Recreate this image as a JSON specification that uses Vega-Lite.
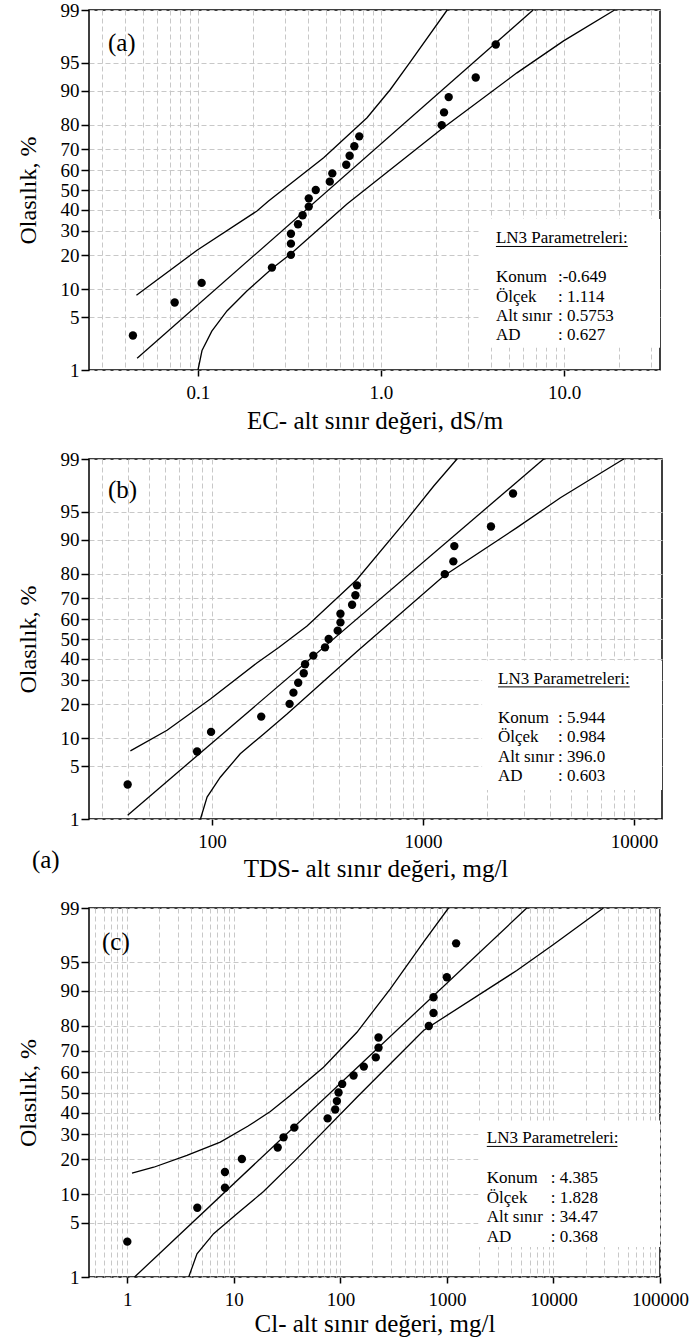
{
  "$schema": "https://vega.github.io/schema/vega-lite/v6.json",
  "padding": {"left": 15, "top": 0, "right": 0, "bottom": 0},
  "bounds": "flush",
  "spacing": 89,
  "config": {
    "font": "Liberation Serif",
    "view": {"stroke": "black", "strokeWidth": 1.5},
    "axis": {
      "labelFont": "Liberation Serif", "titleFont": "Liberation Serif",
      "labelColor": "black", "titleColor": "black", "labelFontSize": 19,
      "titleFontWeight": "normal", "grid": true, "gridColor": "#c8c8c8",
      "gridDash": [5, 3], "gridWidth": 1, "domain": false, "tickColor": "black",
      "tickWidth": 1.5, "labelOverlap": false, "labelFlush": false, "labelBound": false
    },
    "axisX": {"tickSize": 6, "labelPadding": 7, "titleFontSize": 25},
    "axisY": {"tickSize": 8, "labelPadding": 2, "titleFontSize": 24, "titlePadding": 20},
    "text": {"font": "Liberation Serif", "color": "black"}
  },
  "datasets": {
    "a_pts": [
      {"x": 0.0441, "p": 3.0}, {"x": 0.0746, "p": 7.3}, {"x": 0.1047, "p": 11.5}, {"x": 0.2536, "p": 15.8},
      {"x": 0.322, "p": 20.1}, {"x": 0.322, "p": 24.4}, {"x": 0.322, "p": 28.6}, {"x": 0.352, "p": 32.9},
      {"x": 0.373, "p": 37.2}, {"x": 0.403, "p": 41.5}, {"x": 0.403, "p": 45.7}, {"x": 0.44, "p": 50.0},
      {"x": 0.525, "p": 54.3}, {"x": 0.542, "p": 58.5}, {"x": 0.646, "p": 62.8}, {"x": 0.674, "p": 67.1},
      {"x": 0.715, "p": 71.4}, {"x": 0.761, "p": 75.6}, {"x": 2.147, "p": 79.9}, {"x": 2.21, "p": 84.2},
      {"x": 2.344, "p": 88.5}, {"x": 3.293, "p": 92.7}, {"x": 4.24, "p": 97.0}
    ],
    "a_lines": [
      {"s": "fit", "x": 0.0465, "p": 1.48}, {"s": "fit", "x": 6.78, "p": 99},
      {"s": "up", "x": 0.0461, "p": 8.7}, {"s": "up", "x": 0.0988, "p": 21.8}, {"s": "up", "x": 0.21, "p": 39.3},
      {"s": "up", "x": 0.243, "p": 44.3}, {"s": "up", "x": 0.486, "p": 66.2}, {"s": "up", "x": 0.839, "p": 82.5},
      {"s": "up", "x": 1.125, "p": 90.3}, {"s": "up", "x": 1.446, "p": 95.1}, {"s": "up", "x": 2.3, "p": 99},
      {"s": "lo", "x": 0.1, "p": 1.0}, {"s": "lo", "x": 0.1052, "p": 1.9}, {"s": "lo", "x": 0.119, "p": 3.4},
      {"s": "lo", "x": 0.144, "p": 5.9}, {"s": "lo", "x": 0.185, "p": 9.6}, {"s": "lo", "x": 0.254, "p": 15.5},
      {"s": "lo", "x": 0.322, "p": 20.5}, {"s": "lo", "x": 0.652, "p": 42.8}, {"s": "lo", "x": 2.136, "p": 78.4},
      {"s": "lo", "x": 5.53, "p": 93.5}, {"s": "lo", "x": 9.95, "p": 97.3}, {"s": "lo", "x": 18.9, "p": 99}
    ],
    "b_pts": [
      {"x": 39.8, "p": 3.0}, {"x": 84.9, "p": 7.3}, {"x": 98.9, "p": 11.5}, {"x": 171, "p": 15.8},
      {"x": 233, "p": 20.1}, {"x": 243, "p": 24.4}, {"x": 256, "p": 28.6}, {"x": 272, "p": 32.9},
      {"x": 276, "p": 37.2}, {"x": 302, "p": 41.5}, {"x": 343, "p": 45.7}, {"x": 357, "p": 50.0},
      {"x": 394, "p": 54.3}, {"x": 406, "p": 58.5}, {"x": 406, "p": 62.8}, {"x": 461, "p": 67.1},
      {"x": 478, "p": 71.4}, {"x": 486, "p": 75.6}, {"x": 1268, "p": 79.9}, {"x": 1392, "p": 84.2},
      {"x": 1407, "p": 88.5}, {"x": 2099, "p": 92.7}, {"x": 2670, "p": 97.0}
    ],
    "b_lines": [
      {"s": "fit", "x": 39.8, "p": 1.14}, {"s": "fit", "x": 3733, "p": 99},
      {"s": "up", "x": 41.0, "p": 7.4}, {"s": "up", "x": 61.2, "p": 11.9}, {"s": "up", "x": 98.2, "p": 21.9},
      {"s": "up", "x": 163, "p": 37.8}, {"s": "up", "x": 207, "p": 45.6}, {"s": "up", "x": 282, "p": 56.7},
      {"s": "up", "x": 486, "p": 77.9}, {"s": "up", "x": 840, "p": 93.9}, {"s": "up", "x": 1124, "p": 97.6},
      {"s": "up", "x": 1449, "p": 99},
      {"s": "lo", "x": 88.1, "p": 1.0}, {"s": "lo", "x": 94.7, "p": 2.05}, {"s": "lo", "x": 109.4, "p": 3.7},
      {"s": "lo", "x": 136, "p": 6.9}, {"s": "lo", "x": 175.7, "p": 11.0}, {"s": "lo", "x": 226.7, "p": 16.6},
      {"s": "lo", "x": 486, "p": 43.6}, {"s": "lo", "x": 1253, "p": 79.2}, {"s": "lo", "x": 2786, "p": 92.5},
      {"s": "lo", "x": 4478, "p": 96.6}, {"s": "lo", "x": 8935, "p": 99}
    ],
    "c_pts": [
      {"x": 1.0, "p": 3.0}, {"x": 4.54, "p": 7.3}, {"x": 8.25, "p": 11.5}, {"x": 8.25, "p": 15.8},
      {"x": 11.9, "p": 20.1}, {"x": 25.8, "p": 24.4}, {"x": 29.3, "p": 28.6}, {"x": 36.9, "p": 32.9},
      {"x": 75.9, "p": 37.2}, {"x": 89.4, "p": 41.5}, {"x": 92.7, "p": 45.7}, {"x": 96.1, "p": 50.0},
      {"x": 104, "p": 54.3}, {"x": 133, "p": 58.5}, {"x": 166, "p": 62.8}, {"x": 215, "p": 67.1},
      {"x": 228, "p": 71.4}, {"x": 228, "p": 75.6}, {"x": 676, "p": 79.9}, {"x": 748, "p": 84.2},
      {"x": 748, "p": 88.5}, {"x": 998, "p": 92.7}, {"x": 1220, "p": 97.0}
    ],
    "c_lines": [
      {"s": "fit", "x": 1.17, "p": 1.0}, {"s": "fit", "x": 5620, "p": 99},
      {"s": "up", "x": 1.107, "p": 15.5}, {"s": "up", "x": 1.77, "p": 17.3}, {"s": "up", "x": 3.63, "p": 21.4},
      {"s": "up", "x": 7.46, "p": 26.6}, {"s": "up", "x": 13.5, "p": 33.5}, {"s": "up", "x": 22, "p": 40.5},
      {"s": "up", "x": 33.8, "p": 48.5}, {"s": "up", "x": 69.5, "p": 62.5}, {"s": "up", "x": 143, "p": 77.6},
      {"s": "up", "x": 293, "p": 90.4}, {"s": "up", "x": 603, "p": 97.1}, {"s": "up", "x": 1035, "p": 99},
      {"s": "lo", "x": 3.77, "p": 1.0}, {"s": "lo", "x": 4.51, "p": 2.1}, {"s": "lo", "x": 6.46, "p": 3.75},
      {"s": "lo", "x": 10.7, "p": 6.3}, {"s": "lo", "x": 19.0, "p": 10.6}, {"s": "lo", "x": 37.7, "p": 19.6},
      {"s": "lo", "x": 143, "p": 47.6}, {"s": "lo", "x": 603, "p": 78.3}, {"s": "lo", "x": 4525, "p": 93.8},
      {"s": "lo", "x": 10000, "p": 96.9}, {"s": "lo", "x": 29440, "p": 99}
    ]
  },
  "vconcat": [
    {
      "width": 571, "height": 360,
      "layer": [
        {
          "data": {"name": "a_lines"},
          "transform": [{"calculate": "quantileNormal(datum.p / 100)", "as": "z"}],
          "mark": {"type": "line", "color": "black", "strokeWidth": 1.3},
          "encoding": {
            "x": {"field": "x", "type": "quantitative", "scale": {"type": "log", "domain": [0.02538, 33.46], "nice": false},
              "axis": {"title": "EC- alt sınır değeri, dS/m", "titlePadding": 6, "labelOverlap": false, "tickCount": 100,
                "values": [0.03,0.04,0.05,0.06,0.07,0.08,0.09,0.1,0.2,0.3,0.4,0.5,0.6,0.7,0.8,0.9,1,2,3,4,5,6,7,8,9,10,20,30],
                "labelExpr": "indexof([0.1, 1, 10], datum.value) >= 0 ? format(datum.value, '.1f') : ''",
                "tickOpacity": {"condition": {"test": "indexof([0.1, 1, 10], datum.value) >= 0", "value": 1}, "value": 0}}},
            "y": {"field": "z", "type": "quantitative", "scale": {"domain": [-2.326348, 2.326348], "nice": false, "zero": false},
              "axis": {"title": "Olasılık, %", "labelOverlap": false, "tickCount": 50,
                "values": [-2.326348,-1.644854,-1.281552,-0.841621,-0.524401,-0.253347,0,0.253347,0.524401,0.841621,1.281552,1.644854,2.326348],
                "labelExpr": "format(cumulativeNormal(datum.value) * 100, '.0f')"}},
            "detail": {"field": "s"},
            "order": {"field": "p", "type": "quantitative"}
          }
        },
        {
          "data": {"name": "a_pts"},
          "transform": [{"calculate": "quantileNormal(datum.p / 100)", "as": "z"}],
          "mark": {"type": "circle", "color": "black", "size": 70, "opacity": 1},
          "encoding": {
            "x": {"field": "x", "type": "quantitative", "scale": {"type": "log", "domain": [0.02538, 33.46], "nice": false}, "axis": {"labelOverlap": false, "tickCount": 100}},
            "y": {"field": "z", "type": "quantitative", "scale": {"domain": [-2.326348, 2.326348], "nice": false, "zero": false}, "axis": {"labelOverlap": false, "tickCount": 50}}
          }
        },
        {
          "data": {"values": [{}]},
          "mark": {"type": "rect", "fill": "white"},
          "encoding": {
            "x": {"datum": 3.475, "type": "quantitative", "scale": {"type": "log", "domain": [0.02538, 33.46], "nice": false}},
            "x2": {"datum": 33.46},
            "y": {"datum": -0.375, "type": "quantitative", "scale": {"domain": [-2.326348, 2.326348], "nice": false, "zero": false}},
            "y2": {"datum": -2.04}
          }
        },
        {
          "data": {"values": [{}]},
          "mark": {"type": "text", "align": "left", "baseline": "top", "fontSize": 17},
          "encoding": {
            "x": {"datum": 4.246, "type": "quantitative", "scale": {"type": "log", "domain": [0.02538, 33.46], "nice": false}},
            "y": {"datum": -0.521, "type": "quantitative", "scale": {"domain": [-2.326348, 2.326348], "nice": false, "zero": false}},
            "text": {"value": "LN3 Parametreleri:"}
          }
        },
        {
          "data": {"values": [{}]},
          "mark": {"type": "rule", "color": "black", "strokeWidth": 1},
          "encoding": {
            "x": {"datum": 4.246, "type": "quantitative", "scale": {"type": "log", "domain": [0.02538, 33.46], "nice": false}},
            "x2": {"datum": 22.3},
            "y": {"datum": -0.73, "type": "quantitative", "scale": {"domain": [-2.326348, 2.326348], "nice": false, "zero": false}}
          }
        },
        {
          "data": {"values": [{}]},
          "mark": {"type": "text", "align": "left", "baseline": "top", "fontSize": 17, "lineHeight": 19.4},
          "encoding": {
            "x": {"datum": 4.246, "type": "quantitative", "scale": {"type": "log", "domain": [0.02538, 33.46], "nice": false}},
            "y": {"datum": -1.025, "type": "quantitative", "scale": {"domain": [-2.326348, 2.326348], "nice": false, "zero": false}},
            "text": {"value": ["Konum", "Ölçek", "Alt sınır", "AD"]}
          }
        },
        {
          "data": {"values": [{}]},
          "mark": {"type": "text", "align": "left", "baseline": "top", "fontSize": 17, "lineHeight": 19.4},
          "encoding": {
            "x": {"datum": 9.27, "type": "quantitative", "scale": {"type": "log", "domain": [0.02538, 33.46], "nice": false}},
            "y": {"datum": -1.025, "type": "quantitative", "scale": {"domain": [-2.326348, 2.326348], "nice": false, "zero": false}},
            "text": {"value": [":-0.649", ": 1.114", ": 0.5753", ": 0.627"]}
          }
        },
        {
          "data": {"values": [{}]},
          "mark": {"type": "text", "align": "left", "baseline": "middle", "fontSize": 25},
          "encoding": {
            "x": {"datum": 0.0322, "type": "quantitative", "scale": {"type": "log", "domain": [0.02538, 33.46], "nice": false}},
            "y": {"datum": 1.899, "type": "quantitative", "scale": {"domain": [-2.326348, 2.326348], "nice": false, "zero": false}},
            "text": {"value": "(a)"}
          }
        }
      ]
    },
    {
      "width": 573, "height": 360,
      "layer": [
        {
          "data": {"name": "b_lines"},
          "transform": [{"calculate": "quantileNormal(datum.p / 100)", "as": "z"}],
          "mark": {"type": "line", "color": "black", "strokeWidth": 1.3},
          "encoding": {
            "x": {"field": "x", "type": "quantitative", "scale": {"type": "log", "domain": [26.1, 13573], "nice": false},
              "axis": {"title": "TDS- alt sınır değeri, mg/l", "titlePadding": 5, "labelOverlap": false, "tickCount": 100,
                "values": [30,40,50,60,70,80,90,100,200,300,400,500,600,700,800,900,1000,2000,3000,4000,5000,6000,7000,8000,9000,10000],
                "labelExpr": "indexof([100, 1000, 10000], datum.value) >= 0 ? format(datum.value, 'd') : ''",
                "tickOpacity": {"condition": {"test": "indexof([100, 1000, 10000], datum.value) >= 0", "value": 1}, "value": 0}}},
            "y": {"field": "z", "type": "quantitative", "scale": {"domain": [-2.326348, 2.326348], "nice": false, "zero": false},
              "axis": {"title": "Olasılık, %", "labelOverlap": false, "tickCount": 50,
                "values": [-2.326348,-1.644854,-1.281552,-0.841621,-0.524401,-0.253347,0,0.253347,0.524401,0.841621,1.281552,1.644854,2.326348],
                "labelExpr": "format(cumulativeNormal(datum.value) * 100, '.0f')"}},
            "detail": {"field": "s"},
            "order": {"field": "p", "type": "quantitative"}
          }
        },
        {
          "data": {"name": "b_pts"},
          "transform": [{"calculate": "quantileNormal(datum.p / 100)", "as": "z"}],
          "mark": {"type": "circle", "color": "black", "size": 70, "opacity": 1},
          "encoding": {
            "x": {"field": "x", "type": "quantitative", "scale": {"type": "log", "domain": [26.1, 13573], "nice": false}, "axis": {"labelOverlap": false, "tickCount": 100}},
            "y": {"field": "z", "type": "quantitative", "scale": {"domain": [-2.326348, 2.326348], "nice": false, "zero": false}, "axis": {"labelOverlap": false, "tickCount": 50}}
          }
        },
        {
          "data": {"values": [{}]},
          "mark": {"type": "rect", "fill": "white"},
          "encoding": {
            "x": {"datum": 1905, "type": "quantitative", "scale": {"type": "log", "domain": [26.1, 13573], "nice": false}},
            "x2": {"datum": 13573},
            "y": {"datum": -0.277, "type": "quantitative", "scale": {"domain": [-2.326348, 2.326348], "nice": false, "zero": false}},
            "y2": {"datum": -1.952}
          }
        },
        {
          "data": {"values": [{}]},
          "mark": {"type": "text", "align": "left", "baseline": "top", "fontSize": 17},
          "encoding": {
            "x": {"datum": 2267, "type": "quantitative", "scale": {"type": "log", "domain": [26.1, 13573], "nice": false}},
            "y": {"datum": -0.42, "type": "quantitative", "scale": {"domain": [-2.326348, 2.326348], "nice": false, "zero": false}},
            "text": {"value": "LN3 Parametreleri:"}
          }
        },
        {
          "data": {"values": [{}]},
          "mark": {"type": "rule", "color": "black", "strokeWidth": 1},
          "encoding": {
            "x": {"datum": 2267, "type": "quantitative", "scale": {"type": "log", "domain": [26.1, 13573], "nice": false}},
            "x2": {"datum": 9541},
            "y": {"datum": -0.619, "type": "quantitative", "scale": {"domain": [-2.326348, 2.326348], "nice": false, "zero": false}}
          }
        },
        {
          "data": {"values": [{}]},
          "mark": {"type": "text", "align": "left", "baseline": "top", "fontSize": 17, "lineHeight": 19.4},
          "encoding": {
            "x": {"datum": 2267, "type": "quantitative", "scale": {"type": "log", "domain": [26.1, 13573], "nice": false}},
            "y": {"datum": -0.916, "type": "quantitative", "scale": {"domain": [-2.326348, 2.326348], "nice": false, "zero": false}},
            "text": {"value": ["Konum", "Ölçek", "Alt sınır", "AD"]}
          }
        },
        {
          "data": {"values": [{}]},
          "mark": {"type": "text", "align": "left", "baseline": "top", "fontSize": 17, "lineHeight": 19.4},
          "encoding": {
            "x": {"datum": 4365, "type": "quantitative", "scale": {"type": "log", "domain": [26.1, 13573], "nice": false}},
            "y": {"datum": -0.916, "type": "quantitative", "scale": {"domain": [-2.326348, 2.326348], "nice": false, "zero": false}},
            "text": {"value": [": 5.944", ": 0.984", ": 396.0", ": 0.603"]}
          }
        },
        {
          "data": {"values": [{}]},
          "mark": {"type": "text", "align": "left", "baseline": "middle", "fontSize": 25},
          "encoding": {
            "x": {"datum": 32.1, "type": "quantitative", "scale": {"type": "log", "domain": [26.1, 13573], "nice": false}},
            "y": {"datum": 1.93, "type": "quantitative", "scale": {"domain": [-2.326348, 2.326348], "nice": false, "zero": false}},
            "text": {"value": "(b)"}
          }
        },
        {
          "data": {"values": [{}]},
          "mark": {"type": "text", "align": "left", "baseline": "middle", "fontSize": 25},
          "encoding": {
            "x": {"datum": 14.0, "type": "quantitative", "scale": {"type": "log", "domain": [26.1, 13573], "nice": false}},
            "y": {"datum": -2.854, "type": "quantitative", "scale": {"domain": [-2.326348, 2.326348], "nice": false, "zero": false}},
            "text": {"value": "(a)"}
          }
        }
      ]
    },
    {
      "width": 571, "height": 369,
      "layer": [
        {
          "data": {"name": "c_lines"},
          "transform": [{"calculate": "quantileNormal(datum.p / 100)", "as": "z"}],
          "mark": {"type": "line", "color": "black", "strokeWidth": 1.3},
          "encoding": {
            "x": {"field": "x", "type": "quantitative", "scale": {"type": "log", "domain": [0.437, 100000], "nice": false},
              "axis": {"title": "Cl- alt sınır değeri, mg/l", "titlePadding": 2, "labelOverlap": false, "tickCount": 100,
                "values": [0.5,0.6,0.7,0.8,0.9,1,2,3,4,5,6,7,8,9,10,20,30,40,50,60,70,80,90,100,200,300,400,500,600,700,800,900,1000,2000,3000,4000,5000,6000,7000,8000,9000,10000,20000,30000,40000,50000,60000,70000,80000,90000,100000],
                "labelExpr": "indexof([1, 10, 100, 1000, 10000, 100000], datum.value) >= 0 ? format(datum.value, 'd') : ''",
                "tickOpacity": {"condition": {"test": "indexof([1, 10, 100, 1000, 10000, 100000], datum.value) >= 0", "value": 1}, "value": 0}}},
            "y": {"field": "z", "type": "quantitative", "scale": {"domain": [-2.326348, 2.326348], "nice": false, "zero": false},
              "axis": {"title": "Olasılık, %", "labelOverlap": false, "tickCount": 50,
                "values": [-2.326348,-1.644854,-1.281552,-0.841621,-0.524401,-0.253347,0,0.253347,0.524401,0.841621,1.281552,1.644854,2.326348],
                "labelExpr": "format(cumulativeNormal(datum.value) * 100, '.0f')"}},
            "detail": {"field": "s"},
            "order": {"field": "p", "type": "quantitative"}
          }
        },
        {
          "data": {"name": "c_pts"},
          "transform": [{"calculate": "quantileNormal(datum.p / 100)", "as": "z"}],
          "mark": {"type": "circle", "color": "black", "size": 70, "opacity": 1},
          "encoding": {
            "x": {"field": "x", "type": "quantitative", "scale": {"type": "log", "domain": [0.437, 100000], "nice": false}, "axis": {"labelOverlap": false, "tickCount": 100}},
            "y": {"field": "z", "type": "quantitative", "scale": {"domain": [-2.326348, 2.326348], "nice": false, "zero": false}, "axis": {"labelOverlap": false, "tickCount": 50}}
          }
        },
        {
          "data": {"values": [{}]},
          "mark": {"type": "rect", "fill": "white"},
          "encoding": {
            "x": {"datum": 1977, "type": "quantitative", "scale": {"type": "log", "domain": [0.437, 100000], "nice": false}},
            "x2": {"datum": 100000},
            "y": {"datum": -0.353, "type": "quantitative", "scale": {"domain": [-2.326348, 2.326348], "nice": false, "zero": false}},
            "y2": {"datum": -1.948}
          }
        },
        {
          "data": {"values": [{}]},
          "mark": {"type": "text", "align": "left", "baseline": "top", "fontSize": 17},
          "encoding": {
            "x": {"datum": 2367, "type": "quantitative", "scale": {"type": "log", "domain": [0.437, 100000], "nice": false}},
            "y": {"datum": -0.474, "type": "quantitative", "scale": {"domain": [-2.326348, 2.326348], "nice": false, "zero": false}},
            "text": {"value": "LN3 Parametreleri:"}
          }
        },
        {
          "data": {"values": [{}]},
          "mark": {"type": "rule", "color": "black", "strokeWidth": 1},
          "encoding": {
            "x": {"datum": 2367, "type": "quantitative", "scale": {"type": "log", "domain": [0.437, 100000], "nice": false}},
            "x2": {"datum": 39900},
            "y": {"datum": -0.68, "type": "quantitative", "scale": {"domain": [-2.326348, 2.326348], "nice": false, "zero": false}}
          }
        },
        {
          "data": {"values": [{}]},
          "mark": {"type": "text", "align": "left", "baseline": "top", "fontSize": 17, "lineHeight": 19.6},
          "encoding": {
            "x": {"datum": 2367, "type": "quantitative", "scale": {"type": "log", "domain": [0.437, 100000], "nice": false}},
            "y": {"datum": -0.981, "type": "quantitative", "scale": {"domain": [-2.326348, 2.326348], "nice": false, "zero": false}},
            "text": {"value": ["Konum", "Ölçek", "Alt sınır", "AD"]}
          }
        },
        {
          "data": {"values": [{}]},
          "mark": {"type": "text", "align": "left", "baseline": "top", "fontSize": 17, "lineHeight": 19.6},
          "encoding": {
            "x": {"datum": 9440, "type": "quantitative", "scale": {"type": "log", "domain": [0.437, 100000], "nice": false}},
            "y": {"datum": -0.981, "type": "quantitative", "scale": {"domain": [-2.326348, 2.326348], "nice": false, "zero": false}},
            "text": {"value": [": 4.385", ": 1.828", ": 34.47", ": 0.368"]}
          }
        },
        {
          "data": {"values": [{}]},
          "mark": {"type": "text", "align": "left", "baseline": "middle", "fontSize": 25},
          "encoding": {
            "x": {"datum": 0.579, "type": "quantitative", "scale": {"type": "log", "domain": [0.437, 100000], "nice": false}},
            "y": {"datum": 1.893, "type": "quantitative", "scale": {"domain": [-2.326348, 2.326348], "nice": false, "zero": false}},
            "text": {"value": "(c)"}
          }
        }
      ]
    }
  ]
}
